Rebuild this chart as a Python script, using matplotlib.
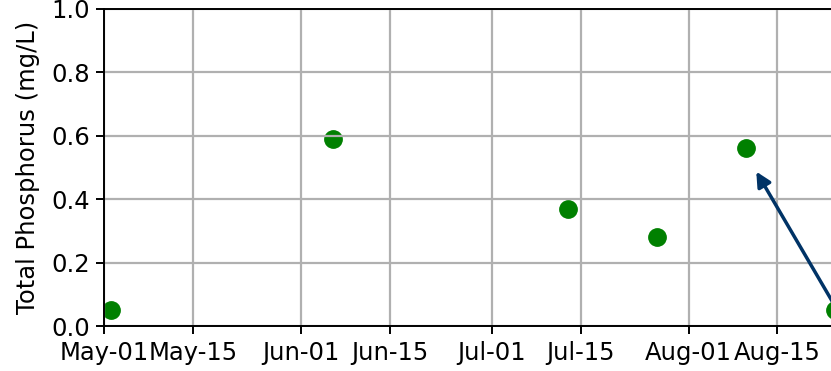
import numpy as np
import pandas as pd
import matplotlib
matplotlib.use("Agg")
import matplotlib.pyplot as plt
import matplotlib.dates as mdates

# sample dates and total phosphorus readings (mg/L)
dates = pd.to_datetime(["2021-05-02", "2021-06-06", "2021-07-13",
                        "2021-07-27", "2021-08-10", "2021-08-24"])
tp = [0.05, 0.59, 0.37, 0.28, 0.56, 0.05]

# arrow from the last sample back up toward the earlier peak
arrow_tail = (pd.Timestamp("2021-08-24"), 0.065)
arrow_head = (pd.Timestamp("2021-08-11 16:00"), 0.487)

plt.rcParams['font.size'] = 17.5

fig = plt.figure(figsize=(8.31, 3.71), dpi=100)
ax = fig.add_axes([104.3 / 831, 45 / 371, 736 / 831, 317 / 371])

ax.plot(dates, tp, 'o', color='green', markersize=12.5, zorder=1)

ax.annotate("", xy=arrow_head, xytext=arrow_tail,
            arrowprops=dict(arrowstyle='-|>', color='#003366', lw=2.5,
                            mutation_scale=22, shrinkA=0, shrinkB=0))

ax.set_ylim(0, 1.0)
ax.set_yticks(np.arange(0, 1.01, 0.2))
# 6.349 px per day -> 736 px wide axis spans ~115.9 days
ax.set_xlim(pd.Timestamp("2021-05-01"), pd.Timestamp("2021-08-24 21:30"))
ax.xaxis.set_major_locator(mdates.DayLocator(bymonthday=[1, 15]))
ax.xaxis.set_major_formatter(mdates.DateFormatter('%b-%d'))
ax.set_ylabel("Total Phosphorus (mg/L)", labelpad=8)

ax.grid(True, color='#b0b0b0', linewidth=1.6)
for s in ax.spines.values():
    s.set_linewidth(1.4)
ax.tick_params(length=6, width=1.4, pad=4.5)

fig.savefig("out.png", dpi=100)
